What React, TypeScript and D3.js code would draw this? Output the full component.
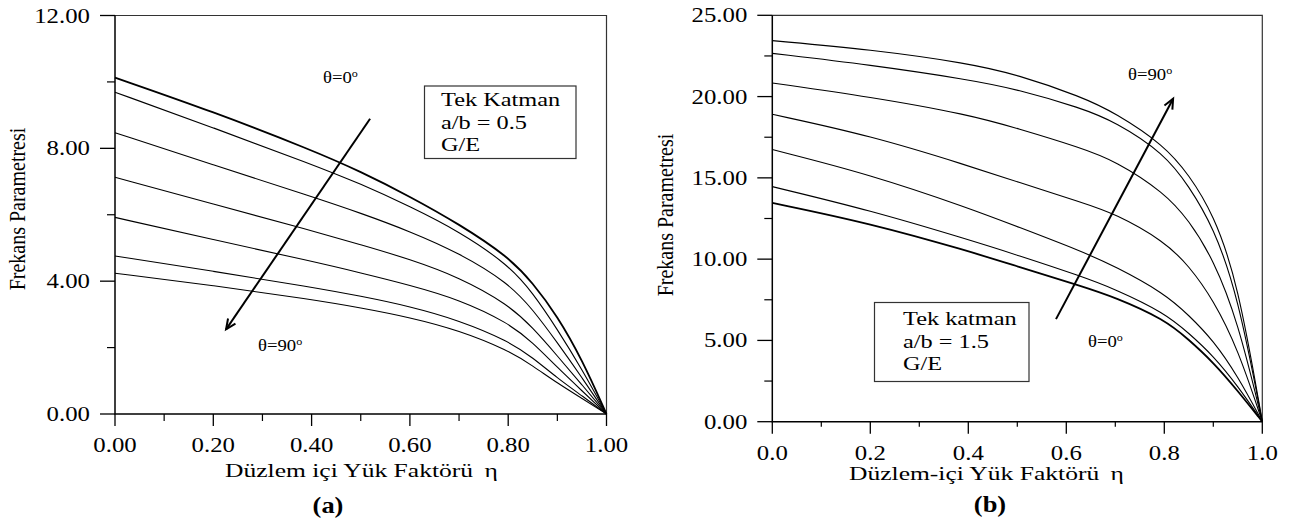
import React, { useRef, useEffect } from "react";
import * as d3 from "d3";

// (a) a/b = 0.5 : curves read at these load factors
const etaA = [0, 0.2, 0.4, 0.5, 0.6, 0.7, 0.8, 0.85, 0.9, 0.95, 1.0];
const freqA = [
  [10.13, 9.1, 7.95, 7.3, 6.55, 5.72, 4.74, 3.95, 2.95, 1.65, 0],
  [9.69, 8.62, 7.52, 6.93, 6.25, 5.5, 4.5, 3.65, 2.55, 1.35, 0],
  [8.47, 7.5, 6.55, 6.05, 5.5, 4.85, 3.95, 3.15, 2.15, 1.1, 0],
  [7.13, 6.32, 5.52, 5.1, 4.66, 4.12, 3.3, 2.6, 1.75, 0.88, 0],
  [5.92, 5.25, 4.6, 4.25, 3.88, 3.45, 2.75, 2.15, 1.4, 0.7, 0],
  [4.76, 4.3, 3.82, 3.55, 3.24, 2.82, 2.2, 1.7, 1.08, 0.55, 0],
  [4.24, 3.87, 3.45, 3.2, 2.91, 2.52, 1.92, 1.45, 0.93, 0.47, 0],
];

// (b) a/b = 1.5
const etaB = [0, 0.2, 0.4, 0.5, 0.63, 0.7, 0.8, 0.85, 0.9, 0.95, 1.0];
const freqB = [
  [23.44, 22.9, 22.05, 21.35, 20.0, 19.0, 17.0, 15.2, 12.8, 8.6, 0],
  [22.66, 21.95, 21.05, 20.45, 19.3, 18.45, 16.5, 14.5, 12.0, 7.8, 0],
  [20.84, 19.98, 18.9, 18.05, 16.85, 16.05, 14.1, 12.4, 10.0, 6.2, 0],
  [18.91, 17.6, 15.75, 14.75, 13.5, 12.8, 11.1, 9.6, 7.5, 4.5, 0],
  [16.74, 15.2, 13.15, 12.0, 10.5, 9.55, 7.9, 6.55, 5.0, 2.8, 0],
  [14.46, 13.0, 11.2, 10.25, 8.95, 8.15, 6.7, 5.45, 4.05, 2.2, 0],
  [13.46, 12.2, 10.5, 9.55, 8.35, 7.65, 6.3, 5.05, 3.65, 1.9, 0],
];

const xMajor = [0, 0.2, 0.4, 0.6, 0.8, 1.0];
const xMinor = [0.1, 0.3, 0.5, 0.7, 0.9];
const yMajorA = [0, 4, 8, 12];
const yMinorA = [2, 6, 10];
const yMajorB = [0, 5, 10, 15, 20, 25];
const yMinorB = [2.5, 7.5, 12.5, 17.5, 22.5];

const legendA = ["Tek Katman", "a/b = 0.5", "G/E"];
const legendB = ["Tek katman", "a/b = 1.5", "G/E"];

const W = 1290;
const H = 523;
const FONT = "'Liberation Serif', 'Times New Roman', serif";

// stretched text, the source figure is wider than tall
function sText(g, x, y, str, opt) {
  const t = g
    .append("text")
    .attr("transform", `translate(${x},${y}) scale(${opt.sx || 1},1)`)
    .attr("text-anchor", opt.anchor || "start")
    .style("font-family", FONT)
    .style("font-size", `${opt.size}px`)
    .style("font-weight", opt.weight || "normal")
    .attr("fill", "#000");
  if (str !== null) t.text(str);
  return t;
}

function thetaLabel(g, x, y, deg) {
  const t = sText(g, x, y, null, { size: 17, sx: 1.1 });
  t.append("tspan").text(`θ=${deg}`);
  t.append("tspan").attr("dy", -6).style("font-size", "11px").text("o");
}

function arrow(g, x1, y1, x2, y2) {
  const a = Math.atan2(y2 - y1, x2 - x1);
  const L = 11;
  g.append("line")
    .attr("x1", x1)
    .attr("y1", y1)
    .attr("x2", x2)
    .attr("y2", y2)
    .attr("stroke", "#000")
    .attr("stroke-width", 2);
  const p = d3.path();
  p.moveTo(x2 - L * Math.cos(a - 0.42), y2 - L * Math.sin(a - 0.42));
  p.lineTo(x2, y2);
  p.lineTo(x2 - L * Math.cos(a + 0.42), y2 - L * Math.sin(a + 0.42));
  g.append("path")
    .attr("d", p.toString())
    .attr("fill", "none")
    .attr("stroke", "#000")
    .attr("stroke-width", 2);
}

function drawPanel(svg, cfg) {
  const { x, y, eta, series, yMajor, yMinor, xFmt, yFmt } = cfg;
  const g = svg.append("g");
  const [x0, x1] = x.range();
  const [y0, y1] = y.range();

  // frame (top + right)
  g.append("path")
    .attr("d", `M${x0},${y1}H${x1}V${y0}`)
    .attr("fill", "none")
    .attr("stroke", "#333")
    .attr("stroke-width", 1.2);

  // curves
  const line = d3
    .line()
    .x((d) => x(d[0]))
    .y((d) => y(d[1]))
    .curve(d3.curveBasis);
  series.forEach((s, i) => {
    g.append("path")
      .datum(eta.map((e, j) => [e, s[j]]))
      .attr("d", line)
      .attr("fill", "none")
      .attr("stroke", "#000")
      .attr("stroke-width", i === cfg.bold ? 1.8 : 1.1);
  });

  // axes lines
  g.append("path")
    .attr("d", `M${x0},${y1}V${y0}H${x1}`)
    .attr("fill", "none")
    .attr("stroke", "#000")
    .attr("stroke-width", 1.5);

  // y ticks
  yMajor.forEach((v) => {
    g.append("line")
      .attr("x1", x0 - 15)
      .attr("x2", x0)
      .attr("y1", y(v))
      .attr("y2", y(v))
      .attr("stroke", "#000")
      .attr("stroke-width", 1.3);
    sText(g, x0 - 25, y(v) + 7, d3.format(yFmt)(v), {
      size: 20,
      sx: 1.24,
      anchor: "end",
    });
  });
  yMinor.forEach((v) => {
    g.append("line")
      .attr("x1", x0 - 8)
      .attr("x2", x0)
      .attr("y1", y(v))
      .attr("y2", y(v))
      .attr("stroke", "#000")
      .attr("stroke-width", 1.2);
  });

  // x ticks
  xMajor.forEach((v) => {
    g.append("line")
      .attr("x1", x(v))
      .attr("x2", x(v))
      .attr("y1", y0)
      .attr("y2", y0 + 12)
      .attr("stroke", "#000")
      .attr("stroke-width", 1.3);
    sText(g, x(v), y0 + 38, d3.format(xFmt)(v), {
      size: 20,
      sx: 1.24,
      anchor: "middle",
    });
  });
  xMinor.forEach((v) => {
    g.append("line")
      .attr("x1", x(v))
      .attr("x2", x(v))
      .attr("y1", y0)
      .attr("y2", y0 + cfg.minorX)
      .attr("stroke", "#000")
      .attr("stroke-width", 1.2);
  });

  // axis titles
  const xt = sText(g, cfg.xTitle[1], cfg.xTitle[2], null, { size: 18, sx: 1.42 });
  xt.append("tspan").text(cfg.xTitle[0]);
  xt.append("tspan").attr("dx", 8).text("η");

  g.append("text")
    .attr(
      "transform",
      `translate(${cfg.yTitle[0]},${cfg.yTitle[1]}) rotate(-90) scale(1,1.2)`
    )
    .attr("text-anchor", "middle")
    .style("font-family", FONT)
    .style("font-size", "20px")
    .text("Frekans Parametresi");

  // legend box
  const [bx, by, bw, bh] = cfg.box;
  g.append("rect")
    .attr("x", bx)
    .attr("y", by)
    .attr("width", bw)
    .attr("height", bh)
    .attr("fill", "#fff")
    .attr("stroke", "#333")
    .attr("stroke-width", 1.2);
  cfg.legend.forEach((s, i) => {
    sText(g, cfg.legendX, cfg.legendY + i * 22.5, s, { size: 19, sx: 1.28 });
  });

  // direction arrow + angle labels
  const [ta, tb, ha, hb] = cfg.arrow;
  arrow(g, x(ta), y(tb), x(ha), y(hb));
  cfg.thetas.forEach((t) => thetaLabel(g, t[0], t[1], t[2]));

  sText(g, cfg.tag[1], cfg.tag[2], cfg.tag[0], {
    size: 23,
    sx: 1.15,
    anchor: "middle",
    weight: "bold",
  });
}

export default function App() {
  const ref = useRef(null);

  useEffect(() => {
    const svg = d3.select(ref.current);
    svg.selectAll("*").remove();

    drawPanel(svg, {
      x: d3.scaleLinear().domain([0, 1]).range([115, 606.5]),
      y: d3.scaleLinear().domain([0, 12]).range([414, 15.5]),
      eta: etaA,
      series: freqA,
      bold: 0,
      yMajor: yMajorA,
      yMinor: yMinorA,
      xFmt: ".2f",
      yFmt: ".2f",
      minorX: 7,
      xTitle: ["Düzlem içi Yük Faktörü", 225, 477],
      yTitle: [25, 209],
      box: [424.5, 86, 151.5, 72.5],
      legend: legendA,
      legendX: 441,
      legendY: 106,
      arrow: [0.519, 8.89, 0.226, 2.55],
      thetas: [
        [323, 83, 0],
        [258, 351, 90],
      ],
      tag: ["(a)", 328, 513],
    });

    drawPanel(svg, {
      x: d3.scaleLinear().domain([0, 1]).range([772.3, 1262.3]),
      y: d3.scaleLinear().domain([0, 25]).range([421.7, 15.3]),
      eta: etaB,
      series: freqB,
      bold: 6,
      yMajor: yMajorB,
      yMinor: yMinorB,
      xFmt: ".1f",
      yFmt: ".2f",
      minorX: 5,
      xTitle: ["Düzlem-içi Yük Faktörü", 849, 480],
      yTitle: [673, 215],
      box: [874.5, 302.5, 154.5, 79],
      legend: legendB,
      legendX: 903,
      legendY: 325,
      arrow: [0.579, 6.31, 0.818, 19.87],
      thetas: [
        [1128, 80, 90],
        [1088, 347, 0],
      ],
      tag: ["(b)", 990, 512],
    });
  }, []);

  return (
    <svg
      ref={ref}
      width={W}
      height={H}
      style={{ position: "absolute", left: 0, top: 0, background: "#fff" }}
    />
  );
}
